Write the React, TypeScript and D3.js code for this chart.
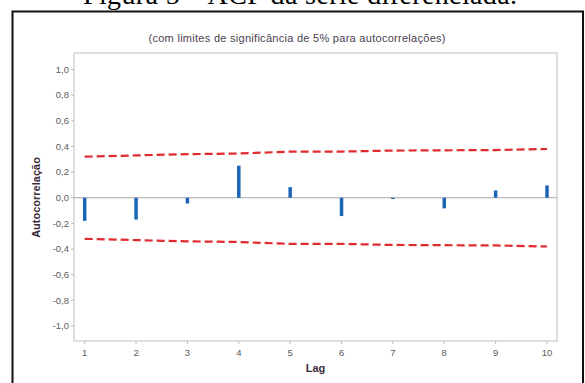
import React from "react";
import * as d3 from "d3";

const lags = [1, 2, 3, 4, 5, 6, 7, 8, 9, 10];
const acf = [-0.18, -0.17, -0.045, 0.25, 0.083, -0.143, -0.01, -0.083, 0.057, 0.096];
const limits = [0.32, 0.33, 0.34, 0.345, 0.36, 0.36, 0.368, 0.37, 0.372, 0.38];
const yTicks = [-1, -0.8, -0.6, -0.4, -0.2, 0, 0.2, 0.4, 0.6, 0.8, 1];

const W = 585;
const H = 383;
const plot = { left: 74, right: 557, top: 53, bottom: 341 };

export default function App() {
  const x = d3.scaleLinear().domain([1, 10]).range([84.7, 547]);
  const y = d3.scaleLinear().domain([-1, 1]).range([326, 69.5]);
  const fmt = (v: number) => d3.format(".1f")(v).replace(".", ",").replace("−", "-");

  const upper = d3
    .line<number>()
    .x((_, i) => x(lags[i]))
    .y((d) => y(d));
  const lower = d3
    .line<number>()
    .x((_, i) => x(lags[i]))
    .y((d) => y(-d));

  const font = "'Liberation Sans', Arial, sans-serif";
  const tickColor = "#5a5a5a";

  return (
    <svg
      width={W}
      height={H}
      style={{ position: "absolute", left: 0, top: 0, background: "#fff" }}
    >
      <text
        x={300}
        y={3.5}
        textAnchor="middle"
        fontFamily="'Liberation Serif', 'Times New Roman', serif"
        fontSize={28}
        textLength={434}
        fill="#000"
      >
        Figura 5 – ACF da série diferenciada.
      </text>
      <rect x={12.5} y={11.5} width={570.5} height={380} fill="none" stroke="#111" strokeWidth={2} />
      <text
        x={297}
        y={41.5}
        textAnchor="middle"
        fontFamily={font}
        fontSize={11}
        textLength={297}
        fill="#4a4150"
      >
        (com limites de significância de 5% para autocorrelações)
      </text>
      <rect
        x={plot.left}
        y={plot.top}
        width={plot.right - plot.left}
        height={plot.bottom - plot.top}
        fill="#fff"
        stroke="#d4d4d4"
        strokeWidth={1.5}
      />
      {yTicks.map((t) => (
        <g key={t}>
          <line x1={plot.left - 3} x2={plot.left} y1={y(t)} y2={y(t)} stroke="#bbb" />
          <text
            x={plot.left - 5}
            y={y(t)}
            dy="0.35em"
            textAnchor="end"
            fontFamily={font}
            fontSize={9.5}
            fill={tickColor}
          >
            {fmt(t)}
          </text>
        </g>
      ))}
      {lags.map((l) => (
        <g key={l}>
          <line x1={x(l)} x2={x(l)} y1={plot.bottom} y2={plot.bottom + 3} stroke="#bbb" />
          <text
            x={x(l)}
            y={plot.bottom + 11.5}
            dy="0.35em"
            textAnchor="middle"
            fontFamily={font}
            fontSize={9.5}
            fill={tickColor}
          >
            {l}
          </text>
        </g>
      ))}
      <line x1={plot.left} x2={plot.right} y1={y(0)} y2={y(0)} stroke="#a8a8a8" strokeWidth={1} />
      <path d={upper(limits) || ""} fill="none" stroke="#e02a2e" strokeWidth={2.2} strokeDasharray="8,4" />
      <path d={lower(limits) || ""} fill="none" stroke="#e02a2e" strokeWidth={2.2} strokeDasharray="8,4" />
      {lags.map((l, i) => (
        <line
          key={l}
          x1={x(l)}
          x2={x(l)}
          y1={y(0)}
          y2={y(acf[i])}
          stroke="#1b64b6"
          strokeWidth={3.5}
        />
      ))}
      <text
        x={(plot.left + plot.right) / 2}
        y={368.5}
        dy="0.35em"
        textAnchor="middle"
        fontFamily={font}
        fontSize={11}
        fontWeight="bold"
        fill="#3a2a3a"
      >
        Lag
      </text>
      <text
        transform={`translate(36,197.5) rotate(-90)`}
        textAnchor="middle"
        dy="0.35em"
        fontFamily={font}
        fontSize={11}
        fontWeight="bold"
        fill="#3a2a3a"
      >
        Autocorrelação
      </text>
    </svg>
  );
}
